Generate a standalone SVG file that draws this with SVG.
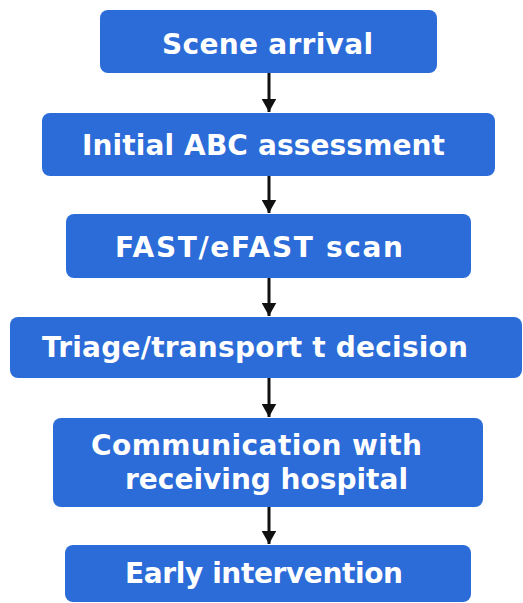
<svg xmlns="http://www.w3.org/2000/svg" width="523" height="603" viewBox="0 0 523 603">
  <style>
    .box { fill: #2c6cd8; }
    .lbl { font-family: "DejaVu Sans", "Liberation Sans", sans-serif; font-weight: bold; font-size: 28px; fill: #ffffff; }
    .link { stroke: #111111; stroke-width: 3; fill: none; marker-end: url(#head); }
  </style>
  <defs>
    <marker id="head" markerWidth="6" markerHeight="5" refX="4.5" refY="2.5" orient="auto" markerUnits="strokeWidth">
      <path d="M0,0 L4.5,2.5 L0,5 z" fill="#111111"/>
    </marker>
  </defs>
  <rect width="523" height="603" fill="#ffffff"/>

  <g id="connectors">
    <line class="link" x1="269" y1="73" x2="269" y2="112"/>
    <line class="link" x1="269" y1="176" x2="269" y2="213"/>
    <line class="link" x1="269" y1="278" x2="269" y2="316"/>
    <line class="link" x1="269" y1="378" x2="269" y2="417"/>
    <line class="link" x1="269" y1="507" x2="269" y2="544"/>
  </g>

  <g id="scene-arrival">
    <rect class="box" x="100" y="10" width="337" height="63" rx="8"/>
    <text class="lbl" x="162" y="54" textLength="211" lengthAdjust="spacing">Scene arrival</text>
  </g>
  <g id="abc-assessment">
    <rect class="box" x="42" y="113" width="453" height="63" rx="8"/>
    <text class="lbl" x="82" y="155" textLength="363" lengthAdjust="spacing">Initial ABC assessment</text>
  </g>
  <g id="fast-scan">
    <rect class="box" x="66" y="214" width="405" height="64" rx="8"/>
    <text class="lbl" x="115" y="257" textLength="288" lengthAdjust="spacing">FAST/eFAST scan</text>
  </g>
  <g id="triage-decision">
    <rect class="box" x="10" y="317" width="512" height="61" rx="8"/>
    <text class="lbl" x="42" y="357" textLength="426" lengthAdjust="spacing">Triage/transport t decision</text>
  </g>
  <g id="hospital-communication">
    <rect class="box" x="53" y="418" width="430" height="89" rx="8"/>
    <text class="lbl" x="91" y="455" textLength="331" lengthAdjust="spacing">Communication with</text>
    <text class="lbl" x="125" y="489" textLength="283" lengthAdjust="spacing">receiving hospital</text>
  </g>
  <g id="early-intervention">
    <rect class="box" x="65" y="545" width="406" height="57" rx="8"/>
    <text class="lbl" x="125" y="583" textLength="278" lengthAdjust="spacing">Early intervention</text>
  </g>
</svg>
